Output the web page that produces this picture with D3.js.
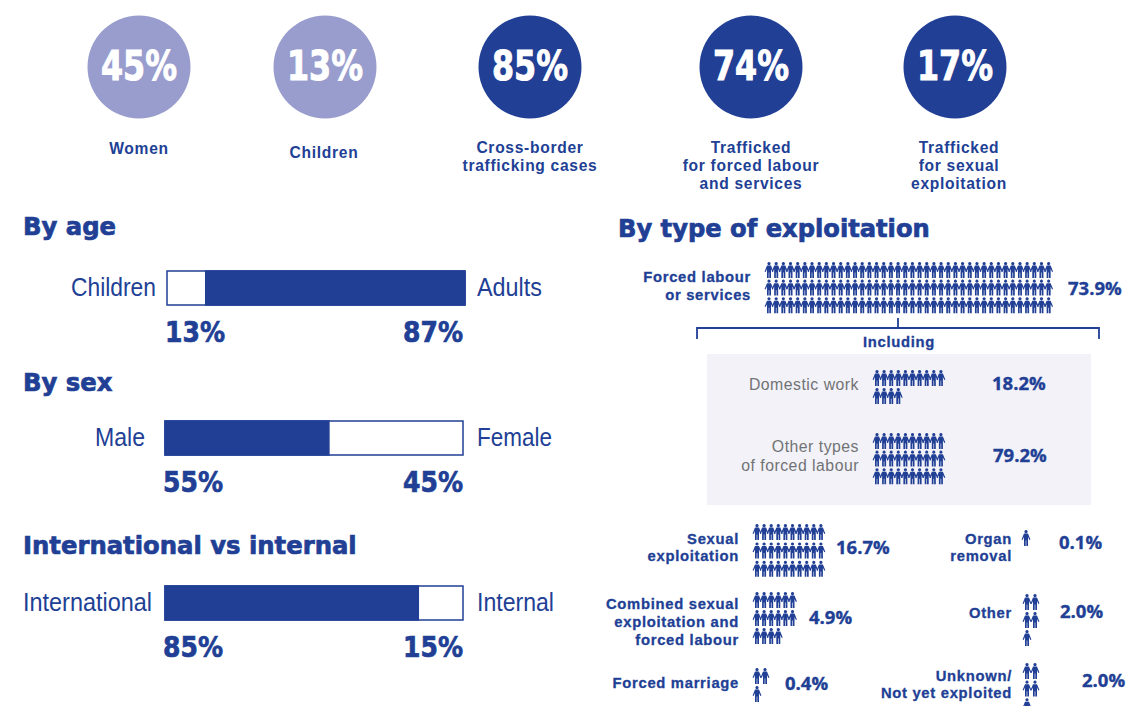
<!DOCTYPE html>
<html>
<head>
<meta charset="utf-8">
<script src="https://cdn.jsdelivr.net/npm/d3@7/dist/d3.min.js"></script>
<style>
  html, body { margin: 0; background: #fff; }
  svg { display: block; }
  text { fill: #213f95; }
  .heavy { font-family: "DejaVu Sans", sans-serif; font-weight: 700; stroke: #213f95; stroke-width: .7px; }
  .label { font-family: "Liberation Sans", sans-serif; font-weight: 700; font-size: 14.8px; letter-spacing: .7px; stroke: #213f95; stroke-width: .3px; }
  .cap { font-family: "Liberation Sans", sans-serif; font-weight: 700; font-size: 15.6px; letter-spacing: .7px; }
  .thin { font-family: "Liberation Sans", sans-serif; font-size: 25px; }
  .grey { font-family: "Liberation Sans", sans-serif; font-size: 15.8px; letter-spacing: .5px; fill: #717275; }
  .pct { font-family: "Open Sans", sans-serif; font-weight: 700; font-size: 18.5px; stroke: #213f95; stroke-width: .35px; }
</style>
</head>
<body>
<svg id="chart" width="1126" height="706"></svg>
<script>
// Headline figures
const headlineValues = ["45%", "13%", "85%", "74%", "17%"];
const headlineCaptions = [["Women"], ["Children"], ["Cross-border", "trafficking cases"],
  ["Trafficked", "for forced labour", "and services"], ["Trafficked", "for sexual", "exploitation"]];
const headlineTones = ["light", "light", "dark", "dark", "dark"];

// Split bars: share of the filled part, and which side is filled
const barTitles = ["By age", "By sex", "International vs internal"];
const barLeftNames = ["Children", "Male", "International"];
const barRightNames = ["Adults", "Female", "Internal"];
const barLeftValues = [13, 55, 85];
const barRightValues = [87, 45, 15];
const barFilledSide = ["right", "left", "left"];

// Exploitation pictograms: figures per row for each category
const exploitNames = [
  ["Forced labour", "or services"], ["Domestic work"], ["Other types", "of forced labour"],
  ["Sexual", "exploitation"], ["Combined sexual", "exploitation and", "forced labour"], ["Forced marriage"],
  ["Organ", "removal"], ["Other"], ["Unknown/", "Not yet exploited"]];
const exploitValues = [73.9, 18.2, 79.2, 16.7, 4.9, 0.4, 0.1, 2.0, 2.0];
const exploitRows = [
  [40, 40, 40], [10, 4], [10, 10, 10],
  [10, 10, 10], [6, 6, 4], [2, 1],
  [1], [2, 2, 1], [2, 2, 1]];

const DARK = "#213f95", LIGHT = "#989dcd", PANEL = "#f2f2f8";
const svg = d3.select("#chart");

// Writes several lines as one text element, stepping down by lineStep
function addLines(parent, cls, anchor, x, y, lines, lineStep) {
  const t = parent.append("text").attr("class", cls).attr("text-anchor", anchor)
    .attr("x", x).attr("y", y);
  t.selectAll("tspan").data(lines).join("tspan")
    .attr("x", x).attr("dy", (d, k) => k ? lineStep : 0).text(d => d);
  return t;
}

/* ---------- headline circles ---------- */
const circleX = [139, 325, 530, 751, 955];
const captionX = [139, 324, 530, 751, 959];
const captionY = [154, 158, 153, 153, 153];
const circles = svg.append("g").selectAll("g").data(headlineValues).join("g")
  .attr("transform", (d, i) => `translate(${circleX[i]},67)`);
circles.append("circle").attr("r", 51.5)
  .attr("fill", (d, i) => headlineTones[i] === "light" ? LIGHT : DARK);
circles.append("text").attr("class", "heavy").attr("text-anchor", "middle").attr("y", 13)
  .attr("font-size", 40).attr("textLength", 76).attr("lengthAdjust", "spacingAndGlyphs")
  .style("fill", "#fff").style("stroke", "#fff").style("stroke-width", "1px").text(d => d);
headlineCaptions.forEach((lines, i) => {
  addLines(svg, "cap", "middle", captionX[i], captionY[i], lines, 18);
});

/* ---------- section titles ---------- */
const titleY = [235, 391, 554];
barTitles.forEach((t, i) => svg.append("text").attr("class", "heavy")
  .attr("x", 23).attr("y", titleY[i]).attr("font-size", 24.3).text(t));
svg.append("text").attr("class", "heavy").attr("x", 618).attr("y", 237).attr("font-size", 24.2)
  .text("By type of exploitation");

/* ---------- split bars ---------- */
const barLeft = [167, 165, 165], barTop = [271, 421, 586], barHeight = 34;
const nameLeftEnd = [156, 145, 152];
const nameLeftWidth = [85, 50, 129], nameRightWidth = [65, 75, 77];
barLeftValues.forEach((v, i) => {
  const x = d3.scaleLinear().domain([0, 100]).range([barLeft[i], barLeft[i] + 298]);
  const g = svg.append("g");
  const y = barTop[i];
  g.append("rect").attr("x", x(0)).attr("y", y).attr("width", x(100) - x(0)).attr("height", barHeight)
    .attr("fill", "#fff").attr("stroke", DARK).attr("stroke-width", 1.5);
  const from = barFilledSide[i] === "left" ? 0 : v;
  const to = barFilledSide[i] === "left" ? v : 100;
  g.append("rect").attr("x", x(from)).attr("y", y).attr("width", x(to) - x(from)).attr("height", barHeight)
    .attr("fill", DARK).attr("stroke", DARK).attr("stroke-width", 1.5);
  g.append("text").attr("class", "thin").attr("text-anchor", "end")
    .attr("x", nameLeftEnd[i]).attr("y", y + 25)
    .attr("textLength", nameLeftWidth[i]).attr("lengthAdjust", "spacingAndGlyphs").text(barLeftNames[i]);
  g.append("text").attr("class", "thin").attr("x", 477).attr("y", y + 25)
    .attr("textLength", nameRightWidth[i]).attr("lengthAdjust", "spacingAndGlyphs").text(barRightNames[i]);
  g.append("text").attr("class", "heavy").attr("font-size", 28)
    .attr("textLength", 60).attr("lengthAdjust", "spacingAndGlyphs")
    .attr("x", x(0) - 2).attr("y", y + 71).text(v + "%");
  g.append("text").attr("class", "heavy").attr("font-size", 28).attr("text-anchor", "end")
    .attr("textLength", 60).attr("lengthAdjust", "spacingAndGlyphs")
    .attr("x", x(100) - (i === 0 ? 2 : 0)).attr("y", y + 71).text(barRightValues[i] + "%");
});

/* ---------- forced labour bracket and panel ---------- */
svg.append("rect").attr("x", 707).attr("y", 354).attr("width", 384).attr("height", 151).attr("fill", PANEL);
svg.append("path").attr("fill", "none").attr("stroke", DARK).attr("stroke-width", 1.8)
  .attr("d", d3.line()([[697, 339], [697, 328], [1099, 328], [1099, 339]]));
svg.append("path").attr("fill", "none").attr("stroke", DARK).attr("stroke-width", 1.8)
  .attr("d", d3.line()([[898, 318], [898, 328]]));
svg.append("text").attr("class", "label").attr("text-anchor", "middle")
  .attr("x", 899).attr("y", 347).text("Including");

/* ---------- pictograms ---------- */
// One person with head and arms angled down; origin at top centre, 16 units tall
const personPath = "M0 0a1.6 1.6 0 1 0 .01 0Z" +
  "M-2 3.6L2 3.6L4.4 9.4L3.4 9.9L2 7L2 16L.3 16L.3 10.6L-.3 10.6L-.3 16L-2 16L-2 7L-3.4 9.9L-4.4 9.4Z";
const exploitLabelEnd = [751, 859, 859, 739, 739, 739, 1012, 1012, 1012];
const exploitLabelY = [282, 390, 452, 544, 609, 688, 544, 618, 681];
const exploitLabelStep = [18, 18, 19, 17, 18, 18, 17, 18, 17];
const exploitFirstX = [769, 877, 877, 757, 757, 757, 1026, 1027, 1027];
const exploitPitchX = [7.17, 7.1, 7.1, 7.1, 7.1, 8, 7, 8, 8];
const exploitFirstY = [262, 370, 433, 524, 592, 668, 530, 594, 663];
const exploitPitchY = [17.6, 18, 17.6, 18.4, 18, 18, 18, 18, 17.6];
const exploitPctX = [1068, 992, 993, 836, 809, 785, 1059, 1060, 1082];
const exploitPctY = [295, 390, 462, 554, 624, 690, 549, 618, 687];

exploitValues.forEach((v, i) => {
  const muted = i === 1 || i === 2;
  addLines(svg, muted ? "grey" : "label", "end", exploitLabelEnd[i], exploitLabelY[i],
    exploitNames[i], exploitLabelStep[i]);
  svg.append("text").attr("class", "pct").attr("x", exploitPctX[i]).attr("y", exploitPctY[i])
    .text(d3.format(".1f")(v) + "%");
  const xPos = d3.scaleLinear().domain([0, 1]).range([exploitFirstX[i], exploitFirstX[i] + exploitPitchX[i]]);
  const yPos = d3.scaleLinear().domain([0, 1]).range([exploitFirstY[i], exploitFirstY[i] + exploitPitchY[i]]);
  exploitRows[i].forEach((count, r) => {
    svg.append("g").selectAll("path").data(d3.range(count)).join("path")
      .attr("d", personPath).attr("fill", DARK)
      .attr("transform", d => `translate(${xPos(d)},${yPos(r)})`);
  });
});
</script>
</body>
</html>
